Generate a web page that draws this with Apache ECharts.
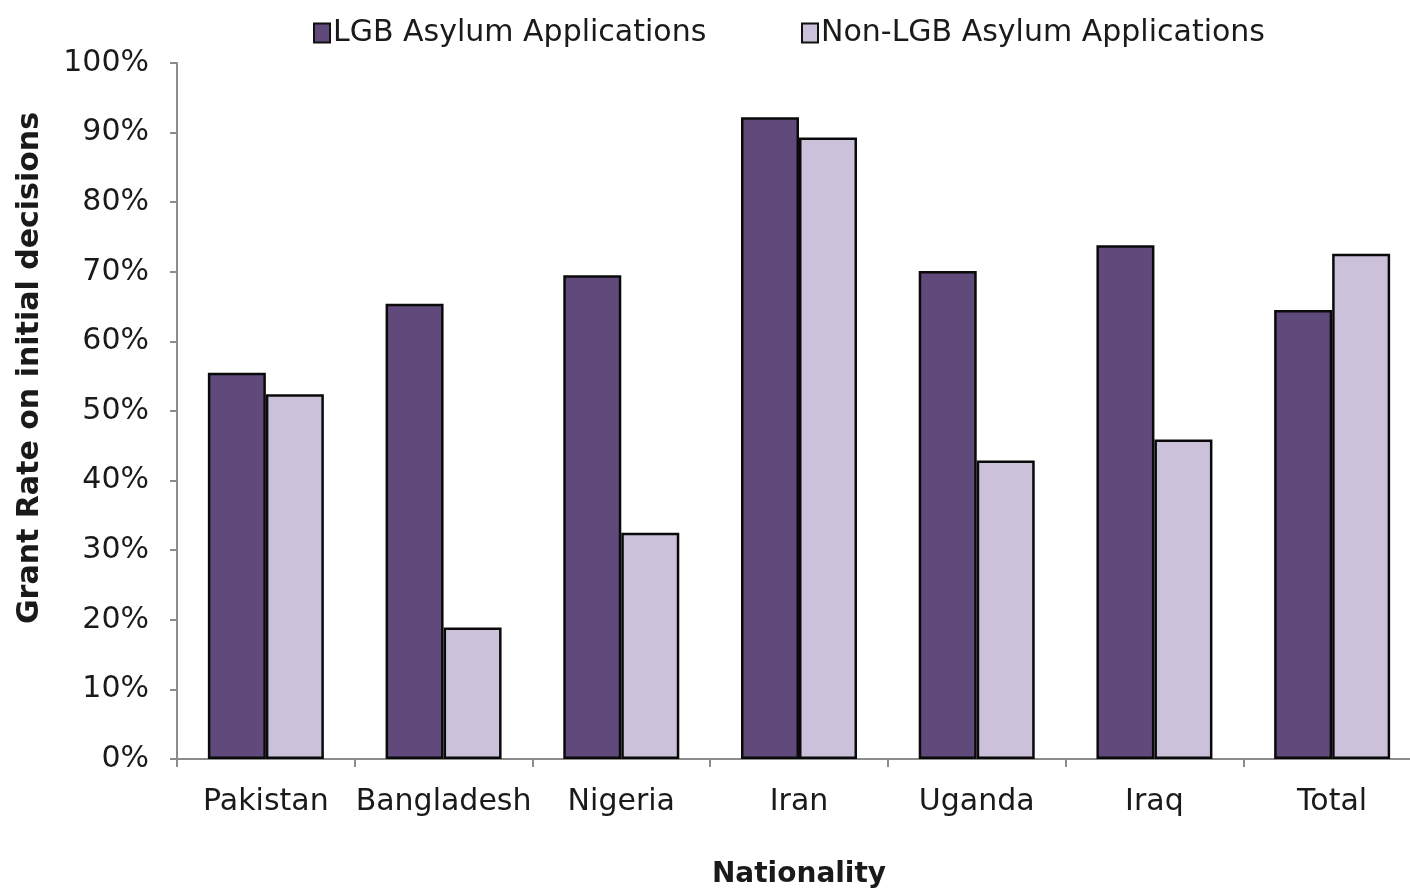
<!DOCTYPE html>
<html>
<head>
<meta charset="utf-8">
<script src="https://cdn.jsdelivr.net/npm/echarts@6/dist/echarts.min.js"></script>
<style>
html,body{margin:0;padding:0;background:#fff;}
#chart{width:1410px;height:890px;}
</style>
</head>
<body>
<div id="chart"></div>
<script>
const categories = ['Pakistan', 'Bangladesh', 'Nigeria', 'Iran', 'Uganda', 'Iraq', 'Total'];
const lgbRates = [55.5, 65.4, 69.5, 92.2, 70.1, 73.8, 64.5];
const nonLgbRates = [52.4, 18.9, 32.5, 89.3, 42.9, 45.9, 72.6];
const seriesNames = ['LGB Asylum Applications', 'Non-LGB Asylum Applications'];
const yAxisTitle = 'Grant Rate on initial decisions';
const xAxisTitle = 'Nationality';

const FONT = 'DejaVu Sans';
const chart = echarts.init(document.getElementById('chart'), null, {renderer: 'canvas'});
const legendBase = {
  top: 13,
  icon: 'rect',
  itemWidth: 16,
  itemHeight: 19,
  itemGap: 0,
  selectedMode: false,
  itemStyle: {borderColor: '#111111', borderWidth: 2},
  textStyle: {fontFamily: FONT, fontSize: 30, color: '#1a1a1a', padding: [0, 0, 0, -2]}
};
chart.setOption({
  animation: false,
  backgroundColor: '#ffffff',
  legend: [
    Object.assign({}, legendBase, {left: 308, data: [seriesNames[0]]}),
    Object.assign({}, legendBase, {left: 796, data: [seriesNames[1]]})
  ],
  graphic: [{
    type: 'text',
    x: 30,
    y: 368,
    rotation: Math.PI / 2,
    style: {
      text: yAxisTitle,
      fontFamily: FONT,
      fontSize: 30,
      fontWeight: 'bold',
      fill: '#1a1a1a',
      align: 'center',
      verticalAlign: 'middle'
    }
  }],
  grid: {left: 177, top: 63, bottom: 131, width: 1244, outerBoundsMode: 'none', containLabel: false},
  xAxis: {
    type: 'category',
    data: categories,
    name: xAxisTitle,
    nameLocation: 'middle',
    nameGap: 102,
    nameTextStyle: {fontFamily: FONT, fontSize: 28, fontWeight: 'bold', color: '#1a1a1a'},
    axisLine: {show: true, lineStyle: {color: '#8c8c8c', width: 2}},
    axisTick: {show: true, length: 8, lineStyle: {color: '#8c8c8c', width: 2}},
    axisLabel: {fontFamily: FONT, fontSize: 30, color: '#1a1a1a', margin: 28, interval: 0}
  },
  yAxis: {
    type: 'value',
    min: 0,
    max: 100,
    interval: 10,
    axisLine: {show: true, lineStyle: {color: '#8c8c8c', width: 2}},
    axisTick: {show: true, length: 7, lineStyle: {color: '#8c8c8c', width: 2}},
    splitLine: {show: false},
    axisLabel: {fontFamily: FONT, fontSize: 30, color: '#1a1a1a', margin: 28, formatter: '{value}%'}
  },
  series: [
    {
      name: seriesNames[0],
      type: 'bar',
      data: lgbRates,
      barWidth: 58,
      barGap: '0%',
      itemStyle: {color: '#604a7b', borderColor: '#0a0a0a', borderWidth: 2.5}
    },
    {
      name: seriesNames[1],
      type: 'bar',
      data: nonLgbRates,
      barWidth: 58,
      barGap: '0%',
      itemStyle: {color: '#ccc1da', borderColor: '#0a0a0a', borderWidth: 2.5}
    }
  ]
});
</script>
</body>
</html>
